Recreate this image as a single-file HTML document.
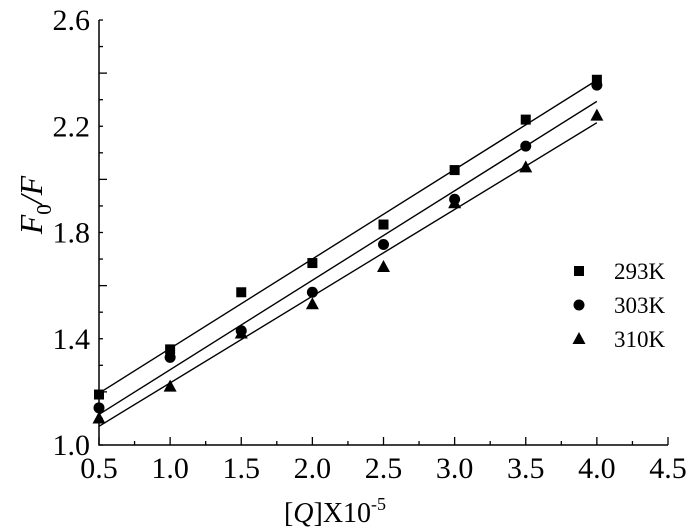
<!DOCTYPE html>
<html><head><meta charset="utf-8"><style>
body{margin:0;background:#fff;}
svg{display:block;font-family:"Liberation Serif",serif;}
</style></head><body>
<svg id="chart" width="700" height="532" viewBox="0 0 700 532" xmlns="http://www.w3.org/2000/svg"></svg>
<script>
const xValues=[0.5,1.0,1.5,2.0,2.5,3.0,3.5,4.0];
const s293=[1.19,1.36,1.575,1.685,1.83,2.035,2.225,2.375];
const s303=[1.14,1.33,1.43,1.575,1.755,1.925,2.125,2.355];
const s310=[1.10,1.22,1.42,1.53,1.67,1.91,2.045,2.24];
const seriesNames=['293K','303K','310K'];
const xTicks=[0.5,1.0,1.5,2.0,2.5,3.0,3.5,4.0,4.5];
const yTicks=[1.0,1.4,1.8,2.2,2.6];
const NS='http://www.w3.org/2000/svg';
const svg=document.getElementById('chart');
const X0=99,X1=668,Y0=445,Y1=20;
const sx=v=>X0+(v-0.5)/4*(X1-X0);
const sy=v=>Y0-(v-1.0)/1.6*(Y0-Y1);
function mk(t,a,p){const e=document.createElementNS(NS,t);for(const k in a)e.setAttribute(k,a[k]);(p||svg).appendChild(e);return e;}
const axes=mk('g',{});


mk('path',{d:`M${X0},${Y1} V${Y0} H${X1}`,fill:'none',stroke:'#000','stroke-width':1.5},axes);
for(let v=0.5;v<=4.501;v+=0.25){const x=sx(v);const major=Math.abs((v*2)-Math.round(v*2))<1e-6;mk('line',{x1:x,x2:x,y1:Y0,y2:Y0-(major?8:4),stroke:'#000','stroke-width':1.3},axes);}
for(let v=1.0;v<=2.601;v+=0.1){const y=sy(v);const major=Math.abs(v*2.5-Math.round(v*2.5))<1e-6;mk('line',{x1:X0,x2:X0+(major?8:4),y1:y,y2:y,stroke:'#000','stroke-width':1.3},axes);}
xTicks.forEach(v=>{const t=mk('text',{x:sx(v),y:478,'font-size':30,'text-anchor':'middle'});t.textContent=v.toFixed(1);});
yTicks.forEach(v=>{const t=mk('text',{x:90,y:sy(v)+10,'font-size':30,'text-anchor':'end'});t.textContent=v.toFixed(1);});
const xt=mk('text',{x:335,y:522,'font-size':28,'text-anchor':'middle'});


xt.innerHTML='[<tspan font-style="italic">Q</tspan>]X10<tspan dy="-12" font-size="18">-5</tspan>';
const yt=mk('text',{transform:'translate(42,205) rotate(-90)','font-size':32,'text-anchor':'middle'});


yt.innerHTML='<tspan font-style="italic">F</tspan><tspan dy="9" font-size="21">0</tspan><tspan dy="-9" font-style="italic">/F</tspan>';
function marker(kind,x,y,g){
 if(kind===0) return mk('rect',{x:x-5,y:y-5,width:10,height:10,fill:'#000'},g);
 if(kind===1) return mk('circle',{cx:x,cy:y,r:5.5,fill:'#000'},g);
 return mk('path',{d:`M${x},${y-7} L${x+6.5},${y+5} L${x-6.5},${y+5} Z`,fill:'#000'},g);
}
[s293,s303,s310].forEach((ys,i)=>{
 const g=mk('g',{});
 
 
 const n=xValues.length;let mx=0,my=0;xValues.forEach((x,j)=>{mx+=x;my+=ys[j];});mx/=n;my/=n;
 let sxy=0,sxx=0;xValues.forEach((x,j)=>{sxy+=(x-mx)*(ys[j]-my);sxx+=(x-mx)*(x-mx);});
 const b=sxy/sxx,a=my-b*mx;
 const xa=xValues[0],xb=xValues[n-1];
 const l=mk('line',{x1:sx(xa),y1:sy(a+b*xa),x2:sx(xb),y2:sy(a+b*xb),stroke:'#000','stroke-width':1.4},g);
 
 
 xValues.forEach((x,j)=>{const m=marker(i,sx(x),sy(ys[j]),g);
  
  });
});
const lg=mk('g',{});


const legY=[271,305,339];
seriesNames.forEach((nm,i)=>{
 const e=mk('g',{},lg);
 
 
 marker(i,579,legY[i],e);
 const t=mk('text',{x:614,y:legY[i]+8,'font-size':23},e);t.textContent=nm;
});
</script>
</body></html>
